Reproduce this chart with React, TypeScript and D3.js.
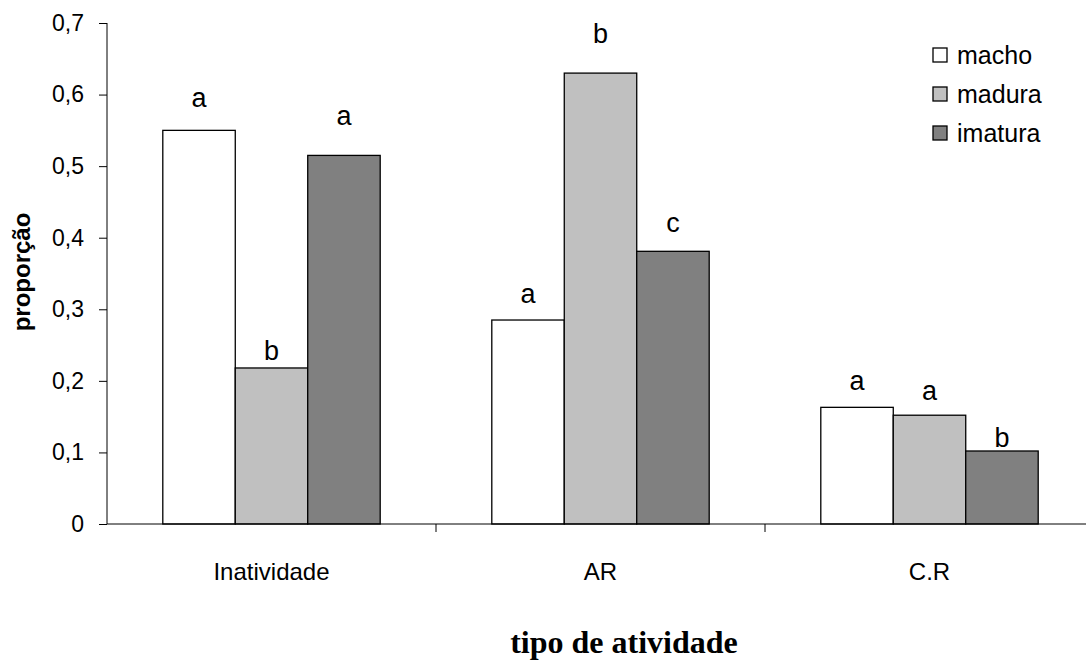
import React, { useEffect, useRef } from 'react'
import * as d3 from 'd3'

const categories = ['Inatividade', 'AR', 'C.R']
const series = ['macho', 'madura', 'imatura']
const macho = [0.55, 0.285, 0.163]
const madura = [0.218, 0.63, 0.152]
const imatura = [0.515, 0.381, 0.102]
// significance letters and the height (in data units) where each sits
const machoLetters = ['a', 'a', 'a']
const maduraLetters = ['b', 'b', 'a']
const imaturaLetters = ['a', 'c', 'b']
const machoLetterY = [0.583, 0.309, 0.187]
const maduraLetterY = [0.229, 0.672, 0.173]
const imaturaLetterY = [0.557, 0.408, 0.108]
const yTicks = [0, 0.1, 0.2, 0.3, 0.4, 0.5, 0.6, 0.7]
const colors = ['#ffffff', '#c0c0c0', '#808080']

const W = 1086
const H = 669
const FONT = 'Liberation Sans, Arial, sans-serif'

function drawChart(svgEl: SVGSVGElement) {
    const svg = d3.select(svgEl)
    svg.selectAll('*').remove()

    const values = [macho, madura, imatura]
    const letters = [machoLetters, maduraLetters, imaturaLetters]
    const letterY = [machoLetterY, maduraLetterY, imaturaLetterY]

    let rows: { cat: string, s: string, si: number, v: number, l: string, ly: number }[] = []
    categories.forEach((c, ci) => {
        series.forEach((s, si) => {
            rows.push({ cat: c, s: s, si: si, v: values[si][ci], l: letters[si][ci], ly: letterY[si][ci] })
        })
    })

    const y = d3.scaleLinear().domain([0, 0.7]).range([524, 23])
    const x = d3.scaleBand().domain(categories).range([107, 1094])
    const xi = d3.scaleBand().domain(series).range([0, x.bandwidth()]).paddingOuter(0.77)

    // bars
    svg.append('g')
        .selectAll('rect')
        .data(rows)
        .enter()
        .append('rect')
        .attr('x', d => x(d.cat)! + xi(d.s)!)
        .attr('y', d => y(d.v))
        .attr('width', xi.bandwidth())
        .attr('height', d => y(0) - y(d.v))
        .attr('fill', d => colors[d.si])
        .attr('stroke', '#000')
        .attr('stroke-width', 1.3)

    // letters over the bars
    svg.append('g')
        .selectAll('text')
        .data(rows)
        .enter()
        .append('text')
        .attr('x', d => x(d.cat)! + xi(d.s)! + xi.bandwidth() / 2)
        .attr('y', d => y(d.ly))
        .attr('text-anchor', 'middle')
        .attr('font-family', FONT)
        .attr('font-size', 27)
        .text(d => d.l)

    // y axis
    const yAxis = d3.axisLeft(y)
        .tickValues(yTicks)
        .tickSize(8)
        .tickPadding(15)
        .tickFormat(d => d3.format('.1f')(d as number).replace('.', ',').replace(/^0,0$/, '0'))
    const yg = svg.append('g')
        .attr('transform', 'translate(107,0)')
        .call(yAxis)
    yg.select('.domain').attr('d', `M0,${y(0.7)}V${y(0)}`).attr('stroke', '#000')
    yg.selectAll('.tick line').attr('stroke', '#000')
    yg.selectAll('.tick text')
        .attr('font-family', FONT)
        .attr('font-size', 23)
        .attr('fill', '#000')

    // x axis
    const xAxis = d3.axisBottom(x).tickSize(0).tickPadding(39)
    const xg = svg.append('g')
        .attr('transform', `translate(0,${y(0)})`)
        .call(xAxis)
    xg.select('.domain').attr('d', `M107,0H1094`).attr('stroke', '#000')
    xg.selectAll('.tick text')
        .attr('font-family', FONT)
        .attr('font-size', 24)
        .attr('fill', '#000')

    // category separators
    svg.append('g')
        .selectAll('line')
        .data(categories.slice(1))
        .enter()
        .append('line')
        .attr('x1', d => x(d)!)
        .attr('x2', d => x(d)!)
        .attr('y1', y(0))
        .attr('y2', y(0) + 8)
        .attr('stroke', '#000')

    // legend
    const lg = svg.append('g').attr('transform', 'translate(933,48)')
    const item = lg.selectAll('g')
        .data(series)
        .enter()
        .append('g')
        .attr('transform', (d, i) => `translate(0,${i * 39})`)
    item.append('rect')
        .attr('width', 14)
        .attr('height', 14)
        .attr('fill', (d, i) => colors[i])
        .attr('stroke', '#000')
        .attr('stroke-width', 1.3)
    item.append('text')
        .attr('x', 24)
        .attr('y', 16)
        .attr('font-family', FONT)
        .attr('font-size', 25)
        .text(d => d)

    // titles
    svg.append('text')
        .attr('transform', 'translate(30,272) rotate(-90)')
        .attr('text-anchor', 'middle')
        .attr('font-family', FONT)
        .attr('font-weight', 'bold')
        .attr('font-size', 24)
        .text('proporção')

    svg.append('text')
        .attr('x', 624)
        .attr('y', 653)
        .attr('text-anchor', 'middle')
        .attr('font-family', 'Liberation Serif, Times New Roman, serif')
        .attr('font-weight', 'bold')
        .attr('font-size', 32)
        .text('tipo de atividade')
}

export default function App() {
    const ref = useRef<SVGSVGElement>(null)

    useEffect(() => {
        if (ref.current) drawChart(ref.current)
    }, [])

    return (
        <div style={{ position: 'absolute', left: 0, top: 0 }}>
            <svg ref={ref} width={W} height={H} style={{ display: 'block', background: '#fff' }}></svg>
        </div>
    )
}
